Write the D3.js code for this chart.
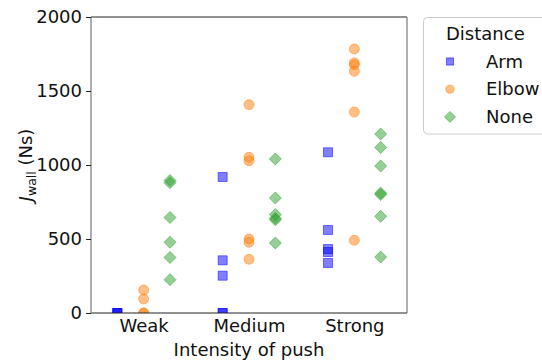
<!DOCTYPE html>
<html>
<head>
<meta charset="utf-8">
<script src="https://cdn.jsdelivr.net/npm/d3@7"></script>
<style>
body{margin:0;background:#fff;}
text{font-family:"DejaVu Sans",sans-serif;}
</style>
</head>
<body>
<svg id="chart" width="542" height="362"></svg>
<script>
const categories = ["Weak", "Medium", "Strong"];
const seriesNames = ["Arm", "Elbow", "None"];
const armValues = [[0, 0, 0], [919, 356, 252, 0, 0], [1086, 561, 432, 412, 338]];
const elbowValues = [[155, 95, 0, 0], [1408, 1052, 1029, 500, 478, 363], [1784, 1690, 1678, 1633, 1358, 491]];
const noneValues = [[895, 880, 645, 478, 375, 225], [1041, 777, 665, 640, 630, 473], [1209, 1119, 993, 810, 800, 653, 378]];
const yTicks = [0, 500, 1000, 1500, 2000];
const seriesOffsets = [-0.25, 0, 0.25];
const seriesColors = ["#0000ff", "#ff7f0e", "#2ca02c"];

(function(){
const svg = d3.select("#chart");
const pL = 91, pR = 407, pT = 17, pB = 313;
const x = d3.scaleLinear().domain([-0.5, 2.5]).range([pL, pR]);
const y = d3.scaleLinear().domain([0, 2000]).range([pB, pT]);

svg.append("defs").append("clipPath").attr("id", "plotclip")
  .append("rect").attr("x", pL).attr("y", pT).attr("width", pR - pL).attr("height", pB - pT);

const shapes = [d3.symbolSquare, d3.symbolCircle, d3.symbolDiamond];
const sizes = [81, 78, 72];
function symbolPath(i, s) {
  if (i === 2) {
    const h = s;
    return `M0,${-h}L${h},0L0,${h}L${-h},0Z`;
  }
  return d3.symbol().type(shapes[i]).size(s)();
}

const allSeries = [armValues, elbowValues, noneValues];
const plot = svg.append("g").attr("clip-path", "url(#plotclip)");
allSeries.forEach((vals, si) => {
  const pts = [];
  vals.forEach((arr, ci) => arr.forEach(v => pts.push({ci, v})));
  plot.selectAll(null).data(pts).enter().append("path")
    .attr("d", symbolPath(si, si === 2 ? 6 : sizes[si]))
    .attr("transform", d => `translate(${x(d.ci + seriesOffsets[si])},${y(d.v)})`)
    .attr("fill", seriesColors[si]).attr("fill-opacity", 0.5)
    .attr("stroke", seriesColors[si]).attr("stroke-opacity", 0.5).attr("stroke-width", 1);
});

// spines
svg.append("line").attr("x1", pL).attr("x2", pR).attr("y1", pT).attr("y2", pT).attr("stroke", "#222").attr("stroke-width", 1);
svg.append("line").attr("x1", pL).attr("x2", pR).attr("y1", pB).attr("y2", pB).attr("stroke", "#222").attr("stroke-width", 1);
svg.append("line").attr("x1", pL).attr("x2", pL).attr("y1", pT).attr("y2", pB).attr("stroke", "#777").attr("stroke-width", 1.2);
svg.append("line").attr("x1", pR).attr("x2", pR).attr("y1", pT).attr("y2", pB).attr("stroke", "#777").attr("stroke-width", 1.2);

// y axis
const yAxis = d3.axisLeft(y).tickValues(yTicks).tickSize(5).tickPadding(4).tickFormat(d3.format("d"));
const gy = svg.append("g").attr("transform", `translate(${pL},0)`).call(yAxis);
gy.select(".domain").remove();
gy.selectAll(".tick line").attr("stroke", "#222");
gy.selectAll(".tick text").attr("font-size", 18).attr("fill", "#111").attr("font-family", "DejaVu Sans");

// x axis
const xAxis = d3.axisBottom(x).tickValues([0, 1, 2]).tickSize(0).tickPadding(6).tickFormat(i => categories[i]);
const gx = svg.append("g").attr("transform", `translate(0,${pB})`).call(xAxis);
gx.select(".domain").remove();
gx.selectAll(".tick text").attr("font-size", 18).attr("fill", "#111").attr("font-family", "DejaVu Sans");

// axis labels
svg.append("text").attr("x", (pL + pR) / 2).attr("y", 356).attr("text-anchor", "middle")
  .attr("font-size", 18).attr("fill", "#111").text("Intensity of push");
const yl = svg.append("text").attr("transform", "translate(32,165) rotate(-90)").attr("text-anchor", "middle")
  .attr("font-size", 18).attr("fill", "#111");
yl.append("tspan").attr("font-style", "italic").text("J");
yl.append("tspan").attr("font-size", 12.5).attr("dy", 4).text("wall");
yl.append("tspan").attr("dy", -4).text(" (Ns)");

// legend
const lg = svg.append("g");
lg.append("rect").attr("x", 423.5).attr("y", 17.5).attr("width", 140).attr("height", 116.5).attr("rx", 4)
  .attr("fill", "#fff").attr("stroke", "#ccc").attr("stroke-width", 1);
lg.append("text").attr("x", 446).attr("y", 40).attr("font-size", 18).attr("fill", "#111").text("Distance");
seriesNames.forEach((name, i) => {
  const yy = 67.5 + i * 27.7;
  lg.append("path").attr("d", symbolPath(i, i === 2 ? 5.5 : 52))
    .attr("transform", `translate(450,${yy - 6})`)
    .attr("fill", seriesColors[i]).attr("fill-opacity", 0.5)
    .attr("stroke", seriesColors[i]).attr("stroke-opacity", 0.5);
  lg.append("text").attr("x", 486).attr("y", yy).attr("font-size", 18).attr("fill", "#111").text(name);
});
})();
</script>
</body>
</html>
